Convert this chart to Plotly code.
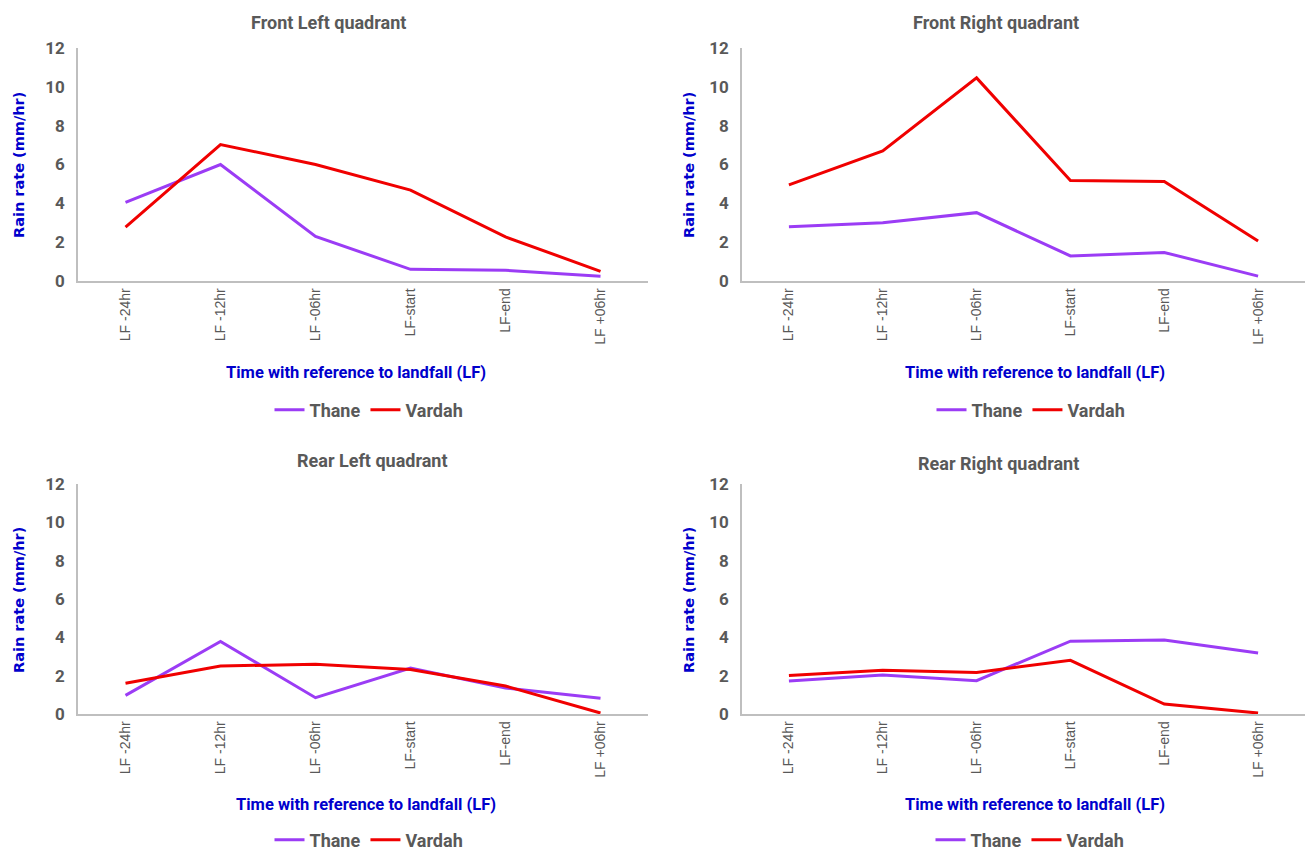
import plotly.graph_objects as go

categories = ["LF -24hr", "LF -12hr", "LF -06hr", "LF-start", "LF-end", "LF +06hr"]
series_names = ["Thane", "Vardah"]
panel_titles = ["Front Left quadrant", "Front Right quadrant",
                "Rear Left quadrant", "Rear Right quadrant"]

front_left_thane = [4.05, 6.0, 2.3, 0.6, 0.55, 0.25]
front_left_vardah = [2.78, 7.03, 6.0, 4.68, 2.27, 0.5]
front_right_thane = [2.8, 3.0, 3.52, 1.29, 1.47, 0.25]
front_right_vardah = [4.95, 6.7, 10.46, 5.17, 5.12, 2.06]
rear_left_thane = [0.97, 3.78, 0.85, 2.4, 1.36, 0.82]
rear_left_vardah = [1.6, 2.5, 2.6, 2.32, 1.46, 0.05]
rear_right_thane = [1.72, 2.03, 1.74, 3.8, 3.86, 3.18]
rear_right_vardah = [2.01, 2.28, 2.17, 2.8, 0.52, 0.05]

y_ticks = [0, 2, 4, 6, 8, 10, 12]
y_title = "Rain rate (mm/hr)"
x_title = "Time with reference to landfall (LF)"

W, H = 1309, 854
THANE_COLOR = "#9B3CF5"
VARDAH_COLOR = "#F00000"
GRAY = "#595959"
BLUE = "#0000CC"
NARROW = "Liberation Sans Narrow, Roboto, Arial"

panels = [
    (front_left_thane, front_left_vardah),
    (front_right_thane, front_right_vardah),
    (rear_left_thane, rear_left_vardah),
    (rear_right_thane, rear_right_vardah),
]

# pixel layout of each panel: (x0, x1, ytop, ybottom)
px_boxes = [(78, 648, 48, 281), (742, 1305, 48, 281),
            (78, 648, 484, 714), (742, 1305, 484, 714)]
title_pos = [(328, 22), (996, 22), (372, 460), (998, 463)]
xtitle_pos = [(356, 372), (1035, 372), (366, 804), (1035, 804)]
ytitle_pos = [(19, 165), (689, 165), (19, 600), (689, 600)]
legend_pos = [(369, 410), (1031, 410), (369, 840), (1030, 840)]

fig = go.Figure()
annotations = []
layout = dict(width=W, height=H, margin=dict(l=0, r=0, t=0, b=0, autoexpand=False),
              paper_bgcolor="white", plot_bgcolor="white", showlegend=True)

for i, (thane, vardah) in enumerate(panels):
    n = "" if i == 0 else str(i + 1)
    leg = "legend" + n
    fig.add_trace(go.Scatter(x=categories, y=thane, name=series_names[0], mode="lines",
                             line=dict(color=THANE_COLOR, width=3),
                             xaxis="x" + n, yaxis="y" + n, legend=leg))
    fig.add_trace(go.Scatter(x=categories, y=vardah, name=series_names[1], mode="lines",
                             line=dict(color=VARDAH_COLOR, width=3),
                             xaxis="x" + n, yaxis="y" + n, legend=leg))
    x0, x1, yt, yb = px_boxes[i]
    layout["xaxis" + n] = dict(domain=[x0 / W, x1 / W], anchor="y" + n,
                               type="category", range=[-0.5, 5.5], automargin=False,
                               showline=True, linecolor="#BFBFBF", linewidth=1.5,
                               showgrid=False, zeroline=False, ticks="",
                               tickangle=-90,
                               tickfont=dict(family="Liberation Sans, Arial", size=14, color=GRAY))
    layout["yaxis" + n] = dict(domain=[1 - yb / H, 1 - yt / H], anchor="x" + n,
                               range=[0, 12], tickvals=y_ticks, automargin=False,
                               showline=True, linecolor="#BFBFBF", linewidth=1.5,
                               showgrid=False, zeroline=False, ticks="",
                               ticklabelstandoff=8,
                               tickfont=dict(family=NARROW, size=17, color=GRAY, weight="bold"))
    lx, ly = legend_pos[i]
    layout[leg] = dict(orientation="h", x=lx / W, y=1 - ly / H, xanchor="center",
                       yanchor="middle", bgcolor="rgba(0,0,0,0)", itemwidth=30,
                       font=dict(family=NARROW, size=18, color=GRAY, weight="bold"),
                       tracegroupgap=0)
    tx, ty = title_pos[i]
    annotations.append(dict(text=panel_titles[i], x=tx / W, y=1 - ty / H, xref="paper",
                            yref="paper", showarrow=False, xanchor="center", yanchor="middle",
                            font=dict(family=NARROW, size=18, color=GRAY, weight="bold")))
    xx, xy = xtitle_pos[i]
    annotations.append(dict(text=x_title, x=xx / W, y=1 - xy / H, xref="paper",
                            yref="paper", showarrow=False, xanchor="center", yanchor="middle",
                            font=dict(family=NARROW, size=16.5, color=BLUE, weight="bold")))
    yx, yy = ytitle_pos[i]
    annotations.append(dict(text=y_title, x=yx / W, y=1 - yy / H, xref="paper",
                            yref="paper", showarrow=False, xanchor="center", yanchor="middle",
                            textangle=-90,
                            font=dict(family="DejaVu Sans, Arial", size=14.5, color=BLUE, weight="bold")))

layout["annotations"] = annotations
fig.update_layout(**layout)
fig.write_html("out.html", config={"displayModeBar": False},
               post_script="document.body.style.margin='0';")
